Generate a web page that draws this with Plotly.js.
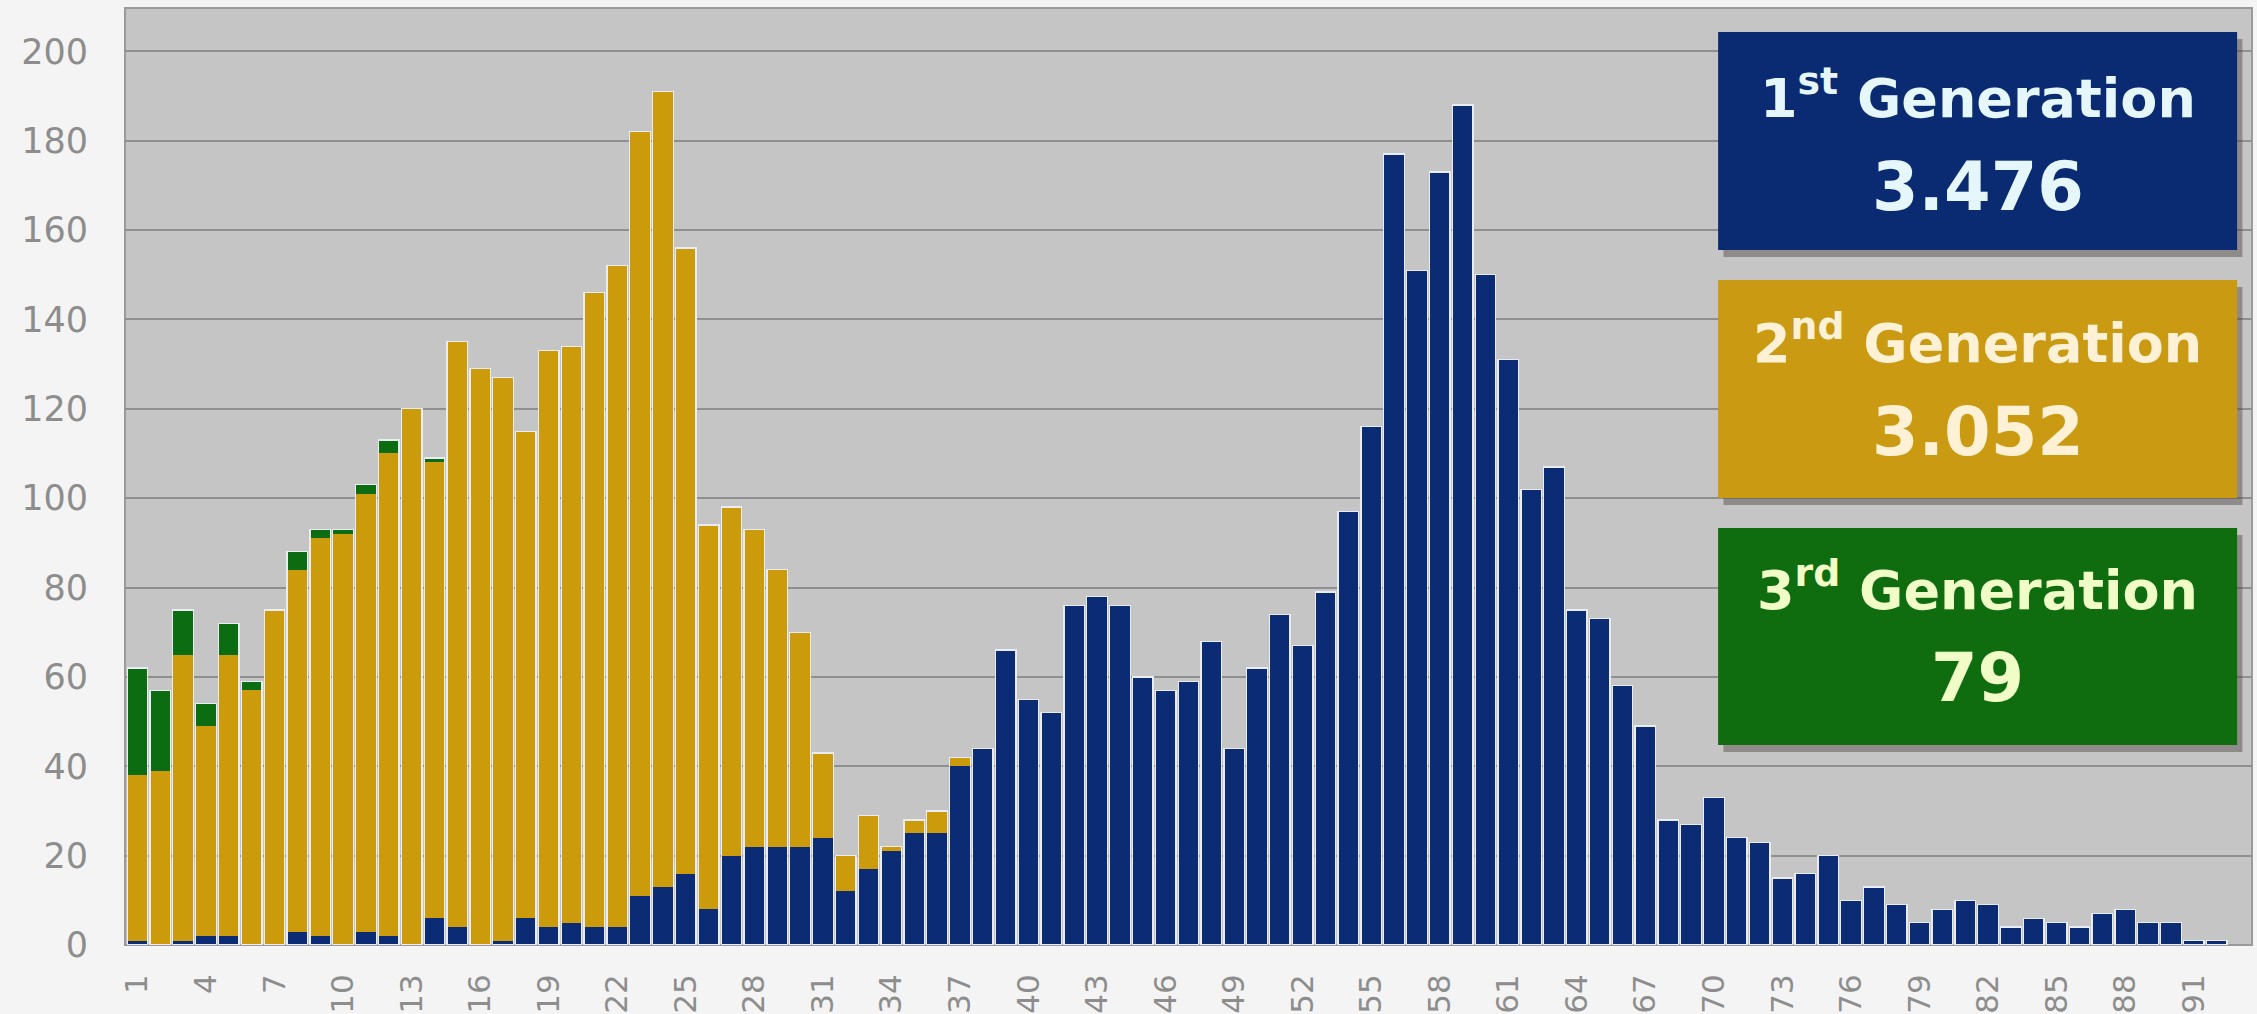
<!DOCTYPE html>
<html>
<head>
<meta charset="utf-8">
<script src="https://cdn.plot.ly/plotly-3.0.1.min.js"></script>
<style>
  html, body { margin: 0; padding: 0; background: #f4f4f4; }
  #chart { width: 2257px; height: 1014px; }
</style>
</head>
<body>
<div id="chart"></div>
<script>
const categories = [1,2,3,4,5,6,7,8,9,10,11,12,13,14,15,16,17,18,19,20,21,22,23,24,25,26,27,28,29,30,
  31,32,33,34,35,36,37,38,39,40,41,42,43,44,45,46,47,48,49,50,51,52,53,54,55,56,57,58,59,60,
  61,62,63,64,65,66,67,68,69,70,71,72,73,74,75,76,77,78,79,80,81,82,83,84,85,86,87,88,89,90,91,92];

const gen1 = [1,0,1,2,2,0,0,3,2,0, 3,2,0,6,4,0,1,6,4,5, 4,4,11,13,16,8,20,22,22,22,
  24,12,17,21,25,25,40,44,66,55, 52,76,78,76,60,57,59,68,44,62, 74,67,79,97,116,177,151,173,188,150,
  131,102,107,75,73,58,49,28,27,33, 24,23,15,16,20,10,13,9,5,8, 10,9,4,6,5,4,7,8,5,5,1,1];

const gen2 = [37,39,64,47,63,57,75,81,89,92, 98,108,120,102,131,129,126,109,129,129,
  142,148,171,178,140,86,78,71,62,48, 19,8,12,1,3,5,2,0,0,0,
  0,0,0,0,0,0,0,0,0,0, 0,0,0,0,0,0,0,0,0,0, 0,0,0,0,0,0,0,0,0,0,
  0,0,0,0,0,0,0,0,0,0, 0,0,0,0,0,0,0,0,0,0,0,0];

const gen3 = [24,18,10,5,7,2,0,4,2,1, 2,3,0,1,0,0,0,0,0,0,
  0,0,0,0,0,0,0,0,0,0, 0,0,0,0,0,0,0,0,0,0, 0,0,0,0,0,0,0,0,0,0,
  0,0,0,0,0,0,0,0,0,0, 0,0,0,0,0,0,0,0,0,0, 0,0,0,0,0,0,0,0,0,0,
  0,0,0,0,0,0,0,0,0,0,0,0];

const tickValues = [1,4,7,10,13,16,19,22,25,28,31,34,37,40,43,46,49,52,55,58,61,64,67,70,73,76,79,82,85,88,91];
const tickLabels = ['1','4','7','10','13','16','19','22','25','28','31','34','37','40','43','46','49','52','55','58','61','64','67','70','73','76','79','82','85','88','91'];

const boxTitles = ['1<sup>st</sup> Generation', '2<sup>nd</sup> Generation', '3<sup>rd</sup> Generation'];
const boxTotals = ['3.476', '3.052', '79'];

const colBlue = '#0b2b74';
const colGold = '#cc9b0b';
const colGreen = '#0c6c12';
const boxFill = ['#0a2a72', '#c99a12', '#0f6c0f'];
const boxText = ['#e6f7fc', '#fff1d6', '#f1fdc6'];

const totals = categories.map((c, i) => gen1[i] + gen2[i] + gen3[i]);

const xRange = [0.456, 93.55];
const yRange = [0, 209.7];

const traces = [
  { type: 'bar', x: categories, y: gen1, name: '1st Generation', marker: { color: colBlue, line: { width: 0 } }, xaxis: 'x', yaxis: 'y' },
  { type: 'bar', x: categories, y: gen2, name: '2nd Generation', marker: { color: colGold, line: { width: 0 } }, xaxis: 'x', yaxis: 'y' },
  { type: 'bar', x: categories, y: gen3, name: '3rd Generation', marker: { color: colGreen, line: { width: 0 } }, xaxis: 'x', yaxis: 'y' },
  { type: 'bar', x: categories, y: totals, name: 'outline', marker: { color: 'rgba(0,0,0,0)', line: { width: 1.3, color: '#e9ecf2' } }, xaxis: 'x2', yaxis: 'y', hoverinfo: 'skip' }
];

// box geometry in paper coordinates
const bx0 = 0.749, bx1 = 0.993;
const boxY = [[0.7417, 0.9744], [0.4771, 0.7097], [0.2134, 0.4450]];
const titleY = [0.908, 0.646, 0.383];
const totalY = [0.809, 0.5475, 0.285];

const shapes = [
  { type: 'rect', xref: 'paper', yref: 'paper', x0: 0, x1: 1, y0: 0, y1: 1, layer: 'below', line: { color: '#9a9a9a', width: 2 }, fillcolor: 'rgba(0,0,0,0)' }
];
const annotations = [];
for (let i = 0; i < 3; i++) {
  shapes.push({ type: 'rect', xref: 'paper', yref: 'paper', x0: bx0 + 0.0025, x1: bx1 + 0.0025, y0: boxY[i][0] - 0.0075, y1: boxY[i][1] - 0.0075,
    line: { width: 0 }, fillcolor: 'rgba(70,60,60,0.42)' });
  shapes.push({ type: 'rect', xref: 'paper', yref: 'paper', x0: bx0, x1: bx1, y0: boxY[i][0], y1: boxY[i][1],
    line: { width: 0 }, fillcolor: boxFill[i] });
  annotations.push({ xref: 'paper', yref: 'paper', x: (bx0 + bx1) / 2, y: titleY[i], text: boxTitles[i], showarrow: false,
    xanchor: 'center', yanchor: 'middle', font: { family: 'DejaVu Sans', size: 54, weight: 'bold', color: boxText[i] } });
  annotations.push({ xref: 'paper', yref: 'paper', x: (bx0 + bx1) / 2, y: totalY[i], text: boxTotals[i], showarrow: false,
    xanchor: 'center', yanchor: 'middle', font: { family: 'DejaVu Sans', size: 67, weight: 'bold', color: boxText[i] } });
}

const layout = {
  width: 2257, height: 1014,
  margin: { l: 125, r: 5, t: 8, b: 69, pad: 0 },
  paper_bgcolor: '#f4f4f4',
  plot_bgcolor: '#c5c5c5',
  barmode: 'stack',
  bargap: 0.1,
  showlegend: false,
  xaxis: {
    type: 'linear', range: xRange, tickmode: 'array', tickvals: tickValues, ticktext: tickLabels,
    tickangle: -90, ticks: '', showgrid: false, zeroline: false, showline: false,
    ticklabelstandoff: 22,
    tickfont: { family: 'DejaVu Sans', size: 31, color: '#8d8d8d' }
  },
  xaxis2: { type: 'linear', range: xRange, overlaying: 'x', visible: false },
  yaxis: {
    range: yRange, dtick: 20, tick0: 0, ticks: '', showgrid: true, gridcolor: '#8f8f8f', gridwidth: 2,
    zeroline: false, showline: false, ticklabelstandoff: 36,
    tickfont: { family: 'DejaVu Sans', size: 35, color: '#8d8d8d' }
  },
  shapes: shapes,
  annotations: annotations
};

Plotly.newPlot('chart', traces, layout, { displayModeBar: false, staticPlot: true });
</script>
</body>
</html>
